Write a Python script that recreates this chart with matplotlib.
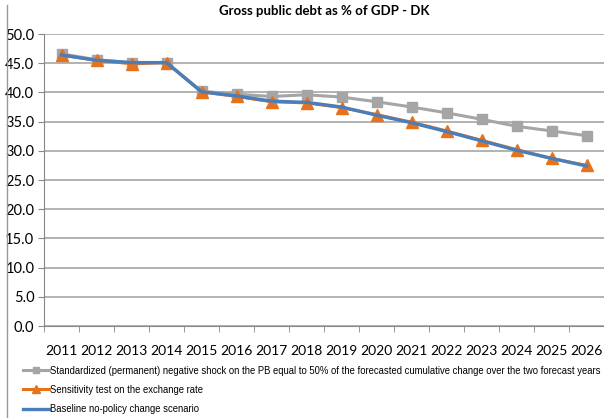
import matplotlib.pyplot as plt
from matplotlib.lines import Line2D
import numpy as np

years = ['2011', '2012', '2013', '2014', '2015', '2016', '2017', '2018',
         '2019', '2020', '2021', '2022', '2023', '2024', '2025', '2026']

shock_pb = [46.6, 45.6, 45.1, 45.1, 40.2, 39.7, 39.3, 39.6,
            39.2, 38.4, 37.5, 36.5, 35.4, 34.2, 33.4, 32.6]
exch_rate = [46.4, 45.5, 44.9, 45.1, 40.1, 39.3, 38.4, 38.2,
             37.4, 36.2, 34.9, 33.4, 31.8, 30.2, 28.7, 27.5]
baseline = [46.4, 45.5, 45.1, 45.1, 40.1, 39.4, 38.5, 38.3,
            37.5, 36.1, 34.8, 33.3, 31.7, 30.1, 28.7, 27.4]

labels = ['Standardized (permanent) negative shock on the PB equal to 50% of the forecasted cumulative change over the two forecast years',
          'Sensitivity test on the exchange rate',
          'Baseline no-policy change scenario']

fig = plt.figure(figsize=(6.04, 4.18), dpi=100)
ax = fig.add_axes([44/604, 1-326/418, 560/604, 292/418])

x = np.arange(len(years))
ax.plot(x, shock_pb, color='#a5a5a5', lw=2.2, marker='s', ms=7, label=labels[0], zorder=3)
ax.plot(x, exch_rate, color='#e8711c', lw=2.2, marker='^', ms=8, label=labels[1], zorder=4)
ax.plot(x, baseline, color='#4a7ebb', lw=2.4, label=labels[2], zorder=5)

ax.set_ylim(0, 50)
ax.set_yticks(np.arange(0, 51, 5))
ax.set_yticklabels([f'{v:.1f}' for v in np.arange(0, 51, 5)], fontsize=10.5, family='Lato')
ax.set_xlim(-0.5, len(years) - 0.5)
ax.set_xticks(x)
ax.set_xticklabels(years, fontsize=10, family='Lato')
ax.set_xticks(np.arange(-0.5, len(years), 1), minor=True)
ax.tick_params(axis='x', which='major', length=0, pad=14)
ax.tick_params(axis='x', which='minor', length=4, color='#888888')
ax.tick_params(axis='y', length=4, color='#888888', pad=3)

ax.grid(axis='y', color='#a6a6a6', lw=1.2)
ax.set_axisbelow(True)
for s in ['top', 'right']:
    ax.spines[s].set_visible(False)
ax.spines['left'].set_color('#888888')
ax.spines['bottom'].set_color('#888888')

ax.set_title('Gross public debt as % of GDP - DK', fontsize=9.5, fontweight='bold',
             family='Lato', pad=14)

fig.legend(loc='upper left', bbox_to_anchor=(18/604, 1-361/418), frameon=False,
           prop={'family': 'Liberation Sans', 'size': 6.85},
           handlelength=2.8, handletextpad=0.1, labelspacing=0.95, borderpad=0,
           markerscale=0.7)

fig.add_artist(Line2D([7/604, 7/604], [0, 1-5/418], transform=fig.transFigure,
                      color='#999999', lw=1))

fig.savefig('out.png', dpi=100)
